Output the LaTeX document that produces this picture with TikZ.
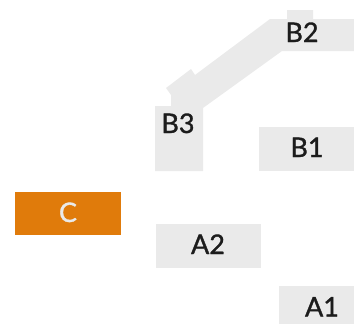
\documentclass[tikz,border=0pt]{standalone}
\usepackage{fontspec}
\setmainfont{Lato}
\newfontface\lblface{Lato}[FakeBold=1.2]
\definecolor{boxgrey}{HTML}{EAEAEA}
\definecolor{boxorange}{HTML}{E07B0B}
\definecolor{inkdark}{HTML}{1C1C1C}
\begin{document}
\begin{tikzpicture}[x=1pt,y=-1pt,
  blockshape/.style={fill=boxgrey,draw=none},
  lbl/.style={inner sep=0pt,text=inkdark,font=\lblface\fontsize{27}{30}\selectfont,anchor=base}]
\useasboundingbox (0,0) rectangle (354,324);
% grey blocks
\fill[blockshape] (270,19) -- (287,19) -- (287,10) -- (313,10) -- (313,19) -- (354,19) -- (354,51) -- (282,51)
  -- (203,108) -- (203,171) -- (155,171) -- (155,106) -- (171,106) -- (171,95) -- (166,88) -- (191,69) -- (195,75) -- cycle;
\fill[blockshape] (259,127) rectangle (354,171);
\fill[blockshape] (156,224) rectangle (261,268);
\fill[blockshape] (279,286) rectangle (354,324);
\fill[boxorange] (15,192) rectangle (121,235);
% labels
\node[lbl] (b2) at (302,42) {B2};
\node[lbl] (b3) at (178,133) {B3};
\node[lbl] (b1) at (307,157) {B1};
\node[lbl,text=boxgrey] (c) at (68,222) {C};
\node[lbl] (a2) at (208,254) {A2};
\node[lbl] (a1) at (322,316.5) {A1};
\end{tikzpicture}
\end{document}
